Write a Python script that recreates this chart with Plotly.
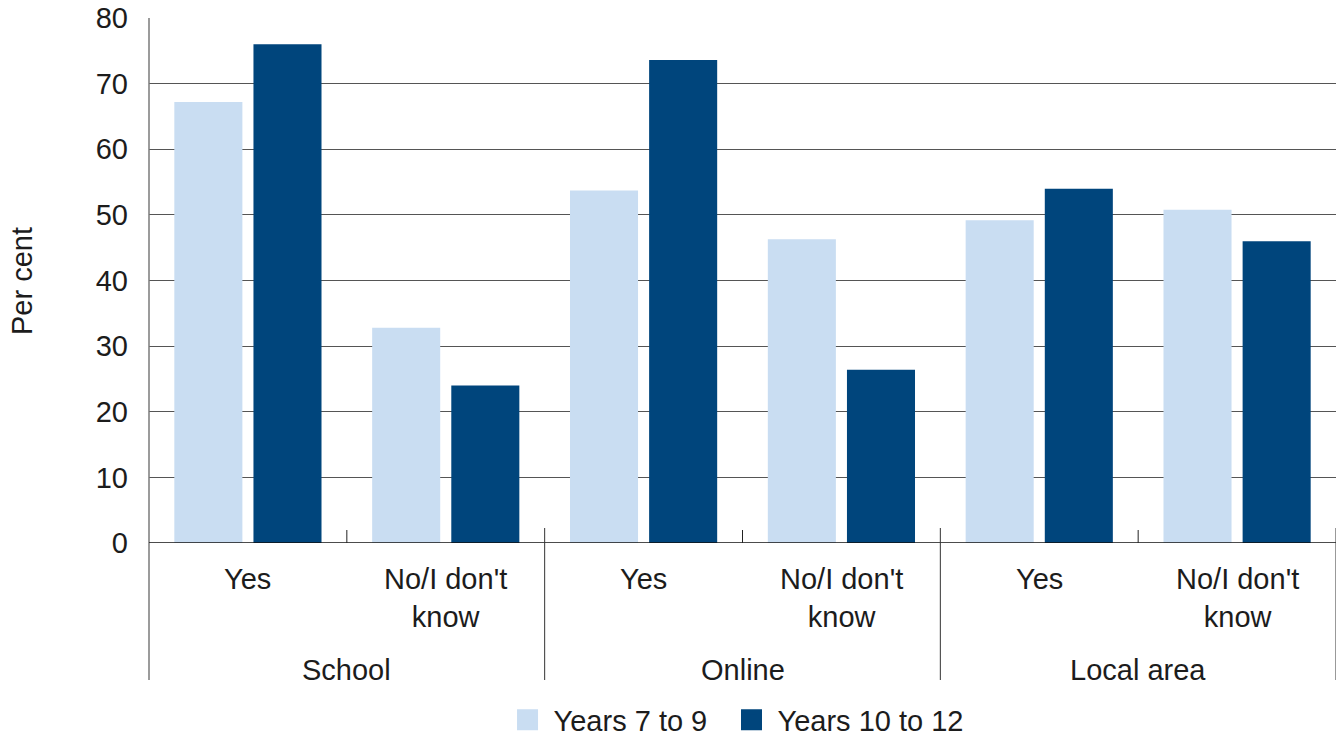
import plotly.graph_objects as go

# Survey responses by setting and answer, per cent of students
groups = ["School", "Online", "Local area"]
answers = ["Yes", "No/I don't<br>know"]
series_names = ["Years 7 to 9", "Years 10 to 12"]
years_7_9 = [67.2, 32.8, 53.7, 46.3, 49.2, 50.8]
years_10_12 = [76.0, 24.0, 73.6, 26.4, 54.0, 46.0]
y_ticks = [0, 10, 20, 30, 40, 50, 60, 70, 80]

colors = ["#C9DDF2", "#00457C"]
FONT = "Liberation Sans"
TEXT = "#1c1c1c"
FS = 29

x_pos = list(range(len(groups) * len(answers)))
legend_ids = ["legend", "legend2"]

fig = go.Figure()
for name, vals, col, lg in zip(series_names, [years_7_9, years_10_12], colors, legend_ids):
    fig.add_trace(go.Bar(x=x_pos, y=vals, name=name, marker_color=col,
                         marker_line_width=0, showlegend=False))
    # legend swatch
    fig.add_trace(go.Scatter(x=[None], y=[None], mode="markers", name=name, legend=lg,
                             marker=dict(symbol="square", size=16, color=col,
                                         line=dict(color=col, width=5))))

H = 525.0  # plot height in px


def py(px):
    return (543 - px) / H


shapes = []
# left axis line extended down through the label area
shapes.append(dict(type="line", xref="paper", yref="paper", x0=0, x1=0,
                   y0=py(680), y1=1, line=dict(color="#7a7a7a", width=1.5)))
# zero line
shapes.append(dict(type="line", xref="paper", yref="y", x0=0, x1=1,
                   y0=0, y1=0, line=dict(color="#111111", width=1.5)))
# short ticks between answers within a group
for xv in [0.5, 2.5, 4.5]:
    shapes.append(dict(type="line", xref="x", yref="paper", x0=xv, x1=xv,
                       y0=0, y1=py(530), line=dict(color="#222222", width=1)))
# long dividers between groups and at the right end
for xv in [1.5, 3.5, 5.5]:
    shapes.append(dict(type="line", xref="x", yref="paper", x0=xv, x1=xv,
                       y0=py(680), y1=py(528), line=dict(color="#333333", width=1)))

annotations = []
for gi, g in enumerate(groups):
    for ai, a in enumerate(answers):
        xi = gi * len(answers) + ai
        yc = py(579) if "<br>" not in a else py(597.5)
        annotations.append(dict(x=xi, y=yc, xref="x", yref="paper", text=a,
                                showarrow=False, xanchor="center", yanchor="middle",
                                font=dict(family=FONT, size=FS, color=TEXT)))
    annotations.append(dict(x=gi * len(answers) + 0.5, y=py(670), xref="x", yref="paper",
                            text=g, showarrow=False, xanchor="center", yanchor="middle",
                            font=dict(family=FONT, size=FS, color=TEXT)))
annotations.append(dict(x=(22 - 149) / 1187.0, y=py(281), xref="paper", yref="paper",
                        text="Per cent", textangle=-90, showarrow=False,
                        xanchor="center", yanchor="middle",
                        font=dict(family=FONT, size=FS, color=TEXT)))

legend_style = dict(orientation="h", xanchor="left", yref="container",
                    y=(737 - 720) / 737.0, yanchor="middle",
                    font=dict(family=FONT, size=FS, color=TEXT), itemwidth=42,
                    bgcolor="rgba(0,0,0,0)")

fig.update_layout(
    width=1339, height=737,
    margin=dict(l=149, r=3, t=18, b=194, autoexpand=False),
    paper_bgcolor="white", plot_bgcolor="white",
    barmode="group", bargap=0.2, bargroupgap=0.14,
    font=dict(family=FONT, size=FS, color=TEXT),
    xaxis=dict(range=[-0.5, 5.5], showticklabels=False, showgrid=False,
               zeroline=False, showline=False, ticks=""),
    yaxis=dict(range=[0, 80], tickvals=y_ticks, showgrid=True, gridcolor="#555555",
               gridwidth=1, zeroline=False, showline=False, ticks="",
               ticklabelstandoff=20, tickfont=dict(family=FONT, size=FS, color=TEXT)),
    legend=dict(x=0.297, **legend_style),
    legend2=dict(x=0.4857, **legend_style),
    shapes=shapes, annotations=annotations,
)

fig.write_html("out.html")
